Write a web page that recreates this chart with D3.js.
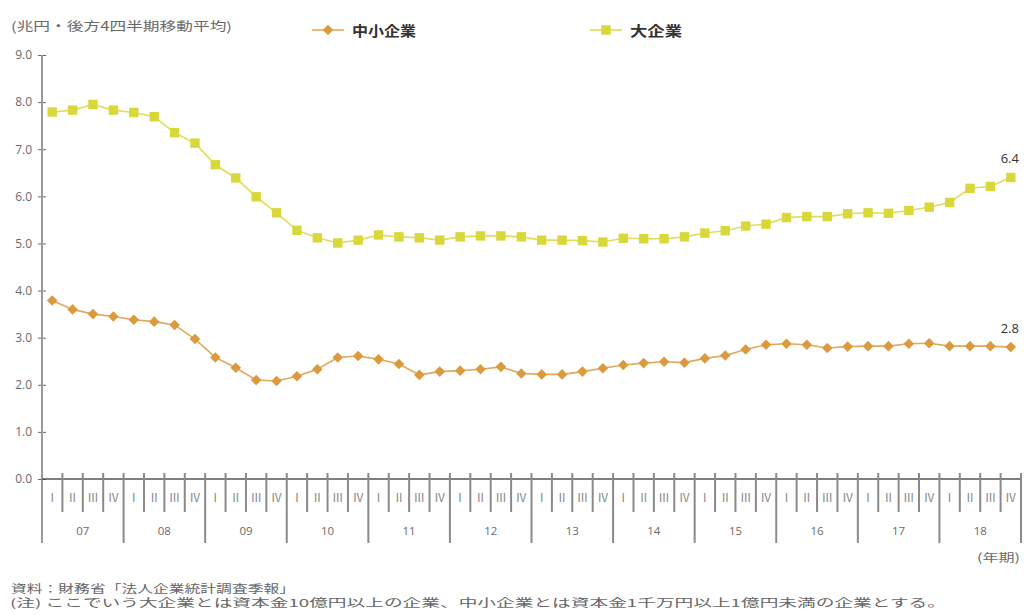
<!DOCTYPE html>
<html>
<head>
<meta charset="utf-8">
<script src="https://cdn.jsdelivr.net/npm/d3@7"></script>
<style>
  html, body { margin: 0; padding: 0; background: #fff; }
  svg { display: block; font-family: "Noto Sans CJK JP", "Noto Sans", sans-serif; }
</style>
</head>
<body>
<svg id="chart" width="1024" height="615"></svg>
<script>
// Fiscal years and quarters (2007 Q1 – 2018 Q4)
const years = ["07", "08", "09", "10", "11", "12", "13", "14", "15", "16", "17", "18"];
const quarterLabels = ["Ⅰ", "Ⅱ", "Ⅲ", "Ⅳ"];
const yTicks = [0, 1, 2, 3, 4, 5, 6, 7, 8, 9];

// 中小企業 (trailing 4-quarter moving average, trillion yen)
const smeValues = [
  3.79, 3.60, 3.50, 3.45, 3.38, 3.34, 3.27, 2.97,
  2.58, 2.36, 2.10, 2.08, 2.18, 2.33, 2.58, 2.61,
  2.54, 2.44, 2.21, 2.28, 2.30, 2.33, 2.38, 2.24,
  2.22, 2.22, 2.28, 2.35, 2.42, 2.46, 2.49, 2.47,
  2.56, 2.62, 2.75, 2.85, 2.87, 2.85, 2.78, 2.81,
  2.82, 2.82, 2.87, 2.88, 2.82, 2.82, 2.82, 2.80
];
// 大企業
const largeValues = [
  7.79, 7.83, 7.95, 7.83, 7.78, 7.69, 7.35, 7.13,
  6.67, 6.39, 5.99, 5.65, 5.28, 5.12, 5.01, 5.07,
  5.18, 5.14, 5.12, 5.07, 5.14, 5.16, 5.16, 5.14,
  5.07, 5.07, 5.06, 5.03, 5.11, 5.10, 5.10, 5.14,
  5.22, 5.27, 5.37, 5.41, 5.55, 5.57, 5.57, 5.63,
  5.65, 5.64, 5.70, 5.77, 5.87, 6.17, 6.21, 6.40
];
const endLabels = ["2.8", "6.4"];

const svg = d3.select("#chart");
const plotLeft = 42, plotRight = 1021, plotTop = 55, plotBottom = 479;

const idx = d3.range(years.length * 4);
const x = d3.scaleBand().domain(idx).range([plotLeft, plotRight]).padding(0);
const bw = x.bandwidth();
const cx = i => x(i) + bw / 2;
const y = d3.scaleLinear().domain([0, 9]).range([plotBottom, plotTop]);

const textGray = "#6a6a6a";

// Stretched text helper (wide CJK typesetting)
function wideText(g, px, py, size, fill, str, width, anchor) {
  return g.append("text").attr("x", px).attr("y", py)
    .attr("font-size", size).attr("fill", fill)
    .attr("text-anchor", anchor || "start")
    .attr("textLength", width).attr("lengthAdjust", "spacingAndGlyphs")
    .text(str);
}

// Unit note
wideText(svg, 11, 31, 12.5, textGray, "(兆円・後方4四半期移動平均)", 221);

// Y axis
const yAxis = d3.axisLeft(y).tickValues(yTicks).tickFormat(d3.format(".1f"))
  .tickSize(4).tickPadding(6);
const gy = svg.append("g").attr("transform", `translate(${plotLeft},0)`).call(yAxis);
gy.select(".domain").remove();
gy.selectAll(".tick line").attr("stroke", "#666").attr("x2", 4).attr("x1", -4);
gy.selectAll(".tick text").attr("font-size", 12).attr("fill", textGray)
  .attr("font-family", "Open Sans, sans-serif");
svg.append("line").attr("x1", plotLeft).attr("x2", plotLeft)
  .attr("y1", plotTop).attr("y2", 543)
  .attr("stroke", "#9a9a9a").attr("stroke-width", 2);

// X axis baseline
svg.append("line").attr("x1", plotLeft).attr("x2", plotRight)
  .attr("y1", plotBottom).attr("y2", plotBottom)
  .attr("stroke", "#555").attr("stroke-width", 1.5);

// Quarter and year separators
const gx = svg.append("g");
idx.concat([idx.length]).forEach(i => {
  if (i === 0) return;
  const xp = i < idx.length ? x(i) : plotRight;
  const isYear = i % 4 === 0;
  gx.append("line").attr("x1", xp).attr("x2", xp)
    .attr("y1", plotBottom - 6).attr("y2", isYear ? 543 : 512)
    .attr("stroke", "#8a8a8a").attr("stroke-width", 2);
});
idx.forEach(i => {
  gx.append("text").attr("x", cx(i)).attr("y", 502)
    .attr("text-anchor", "middle").attr("font-size", 11.5).attr("fill", "#888")
    .text(quarterLabels[i % 4]);
});
years.forEach((yr, k) => {
  gx.append("text").attr("x", x(k * 4) + bw * 2).attr("y", 535)
    .attr("text-anchor", "middle").attr("font-size", 11.5).attr("fill", textGray)
    .attr("font-family", "Open Sans, sans-serif")
    .text(yr);
});
wideText(svg, 1020, 562, 11.5, textGray, "(年期)", 43, "end");

// Series
const series = [
  { name: "中小企業", values: smeValues, color: "#dc9a3e", lineColor: "#e2a85a", shape: "diamond", label: endLabels[0], nameWidth: 64 },
  { name: "大企業", values: largeValues, color: "#d8d83a", lineColor: "#dede5a", shape: "square", label: endLabels[1], nameWidth: 52 }
];
const line = d3.line().x((d, i) => cx(i)).y(d => y(d));

function marker(g, shape, color, px, py) {
  if (shape === "square") {
    g.append("rect").attr("x", px - 4.7).attr("y", py - 4.7).attr("width", 9.4).attr("height", 9.4)
      .attr("fill", color);
  } else {
    g.append("path").attr("d", d3.symbol(d3.symbolSquare, 56)())
      .attr("transform", `translate(${px},${py}) rotate(45)`).attr("fill", color);
  }
}

series.forEach(s => {
  const g = svg.append("g");
  g.append("path").datum(s.values).attr("d", line)
    .attr("fill", "none").attr("stroke", s.lineColor).attr("stroke-width", 1.6);
  s.values.forEach((v, i) => marker(g, s.shape, s.color, cx(i), y(v)));
  const last = s.values.length - 1;
  g.append("text").attr("x", cx(last) - 1).attr("y", y(s.values[last]) - 14)
    .attr("text-anchor", "middle").attr("font-size", 13).attr("fill", "#333")
    .attr("font-family", "Open Sans, sans-serif")
    .text(s.label);
});

// Legend
const legendPos = [312, 590];
series.forEach((s, k) => {
  const lg = svg.append("g").attr("transform", `translate(${legendPos[k]},30)`);
  lg.append("line").attr("x1", 0).attr("x2", 32).attr("y1", 0).attr("y2", 0)
    .attr("stroke", s.lineColor).attr("stroke-width", 1.6);
  marker(lg, s.shape, s.color, 16, 0);
  wideText(lg, 40, 5.5, 14, "#333", s.name, s.nameWidth).attr("font-weight", "bold");
});

// Source and notes
wideText(svg, 11, 593, 11, "#666", "資料：財務省「法人企業統計調査季報」", 284);
wideText(svg, 10, 607, 11, "#666",
  "(注) ここでいう大企業とは資本金10億円以上の企業、中小企業とは資本金1千万円以上1億円未満の企業とする。", 936);
</script>
</body>
</html>
